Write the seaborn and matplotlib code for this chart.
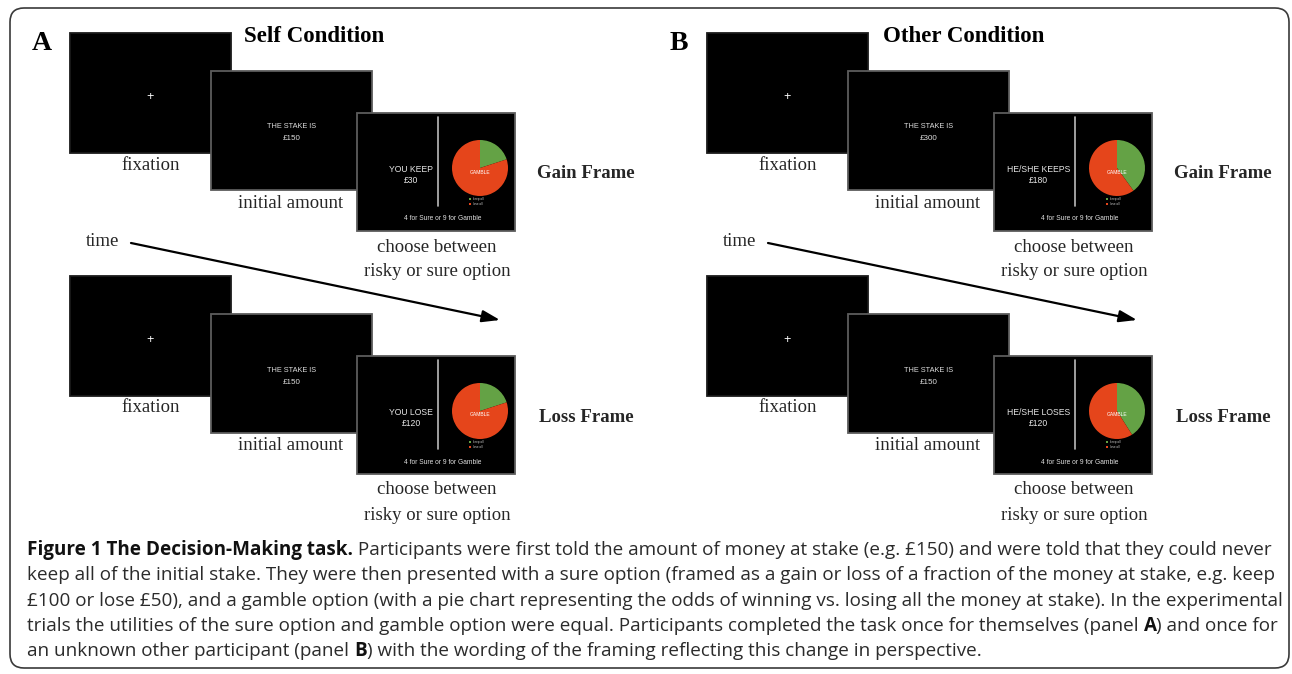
import matplotlib
matplotlib.use('Agg')
import matplotlib.pyplot as plt
from matplotlib import font_manager
from matplotlib.patches import Rectangle, Wedge, FancyBboxPatch
import seaborn as sns

# ---- content of the figure ----
panel_letters = ['A', 'B']
panel_titles = ['Self Condition', 'Other Condition']
frame_names = ['Gain Frame', 'Loss Frame']
stakes = [['£150', '£150'], ['£300', '£150']]            # [panel][frame]
sure_texts = [[('YOU KEEP', '£30'), ('YOU LOSE', '£120')],
              [('HE/SHE KEEPS', '£180'), ('HE/SHE LOSES', '£120')]]
keep_share = [[0.20, 0.20], [0.40, 0.41]]               # green slice of the gamble pie
step_labels = [['fixation'], ['initial amount'], ['choose between', 'risky or sure option']]
pie_labels = ['keep all', 'lose all']
key_prompt = '4 for Sure or 9 for Gamble'
time_label = 'time'

caption_lines = [
    [('Figure 1 The Decision-Making task.', True),
     (' Participants were first told the amount of money at stake (e.g. £150) and were told that they could never', False)],
    [('keep all of the initial stake. They were then presented with a sure option (framed as a gain or loss of a fraction of the money at stake, e.g. keep', False)],
    [('£100 or lose £50), and a gamble option (with a pie chart representing the odds of winning vs. losing all the money at stake). In the experimental', False)],
    [('trials the utilities of the sure option and gamble option were equal. Participants completed the task once for themselves (panel ', False),
     ('A', True), (') and once for', False)],
    [('an unknown other participant (panel ', False), ('B', True),
     (') with the wording of the framing reflecting this change in perspective.', False)],
]

# ---- layout (pixels) ----
W, H = 1292, 674
panel_dx = [0, 637]
row_dy = [0, 243]
screens = [(70, 33, 161, 120), (211, 71, 161, 119), (357, 113, 158, 118)]
GREEN, RED = '#64a245', '#e5451b'
SERIF = 'Liberation Serif'
SANS = 'Liberation Sans'

installed = {f.name for f in font_manager.fontManager.ttflist}
CAP_FONT = 'Liberation Sans Narrow' if 'Liberation Sans Narrow' in installed else 'Open Sans'

sns.set_theme(style='white')
plt.rcParams['font.family'] = ['DejaVu Sans']

fig = plt.figure(figsize=(W / 100, H / 100), dpi=100)
ax = fig.add_axes([0, 0, 1, 1])
ax.set_xlim(0, W)
ax.set_ylim(H, 0)
ax.axis('off')

# outer rounded frame
ax.add_patch(FancyBboxPatch((10, 8), 1279, 660, boxstyle='round,pad=0,rounding_size=14',
                            facecolor='none', edgecolor='#3a3a3a', linewidth=1.2))


def draw_pie(cx, cy, r, share):
    start = -90
    for frac, col in zip([share, 1 - share], [GREEN, RED]):
        ax.add_patch(Wedge((cx, cy), r, start, start + 360 * frac, facecolor=col,
                           edgecolor='none', zorder=5))
        start += 360 * frac


for p in range(2):
    dx = panel_dx[p]
    ax.text(42 + dx, 43, panel_letters[p], family=SERIF, fontweight='bold', fontsize=20,
            ha='center', va='center', color='black')
    ax.text(314 + dx + (13 if p else 0), 37, panel_titles[p], family=SERIF, fontweight='bold',
            fontsize=16.5, ha='center', va='center', color='black')

    # time arrow
    ax.text(103 + dx, 242, time_label, family=SERIF, fontsize=13.5, ha='center', va='center')
    ax.annotate('', xy=(500 + dx, 320), xytext=(131 + dx, 243),
                arrowprops=dict(arrowstyle='-|>,head_length=0.9,head_width=0.3',
                                color='black', lw=1.6, shrinkA=0, shrinkB=0))

    for f in range(2):
        dy = row_dy[f]
        # three screens
        for i, (sx, sy, sw, sh) in enumerate(screens):
            ax.add_patch(Rectangle((sx + dx, sy + dy), sw, sh, facecolor='black',
                                   edgecolor='#1a1a1a' if i == 0 else '#5c5c5c', linewidth=1.3,
                                   zorder=2 + i))
        # fixation cross
        x0, y0, _, _ = screens[0]
        ax.text(x0 + dx + 80, y0 + dy + 64, '+', color='white', fontsize=9, family=SANS,
                ha='center', va='center', zorder=3)
        # stake screen
        x1, y1, w1, _ = screens[1]
        ax.text(x1 + dx + w1 / 2, y1 + dy + 56, 'THE STAKE IS', color='#dddddd', fontsize=5.3,
                family=SANS, ha='center', va='center', zorder=4)
        ax.text(x1 + dx + w1 / 2, y1 + dy + 68, stakes[p][f], color='#dddddd', fontsize=5.8,
                family=SANS, ha='center', va='center', zorder=4)
        # choice screen
        x2, y2, w2, h2 = screens[2]
        bx, by = x2 + dx, y2 + dy
        ax.plot([bx + 81, bx + 81], [by + 4, by + 93], color='#bbbbbb', lw=1.2, zorder=5)
        ax.text(bx + 76, by + 62, '\n'.join(sure_texts[p][f]), color='#e6e6e6', fontsize=6.2,
                family=SANS, ha='right', va='center', multialignment='center',
                linespacing=1.15, zorder=5)
        draw_pie(bx + 123, by + 55, 28, keep_share[p][f])
        ax.text(bx + 123, by + 59, 'GAMBLE', color='white', fontsize=3.6, family=SANS,
                ha='center', va='center', zorder=6)
        for k, (lab, col) in enumerate(zip(pie_labels, [GREEN, RED])):
            ax.scatter([bx + 113], [by + 86 + 5 * k], s=3, marker='s', color=col, zorder=6,
                       linewidths=0)
            ax.text(bx + 116, by + 86 + 5 * k, lab, color='#cccccc', fontsize=2.2, family=SANS,
                    ha='left', va='center', zorder=6)
        ax.text(bx + 86, by + 106, key_prompt, color='#e0e0e0', fontsize=4.8, family=SANS,
                ha='center', va='center', zorder=6)

        # captions under the screens
        ax.text(151 + dx, 165 + dy, step_labels[0][0], family=SERIF, fontsize=13.5,
                ha='center', va='center')
        ax.text(291 + dx, 203 + dy, step_labels[1][0], family=SERIF, fontsize=13.5,
                ha='center', va='center')
        for j, line in enumerate(step_labels[2]):
            ax.text(437 + dx, 247 + dy + 25 * j, line, family=SERIF, fontsize=13.5,
                    ha='center', va='center')
        ax.text(586 + dx, 174 + dy, frame_names[f], family=SERIF, fontweight='bold',
                fontsize=13.5, ha='center', va='center')

# figure caption with mixed bold / regular runs
fig.canvas.draw()
renderer = fig.canvas.get_renderer()
inv = ax.transData.inverted()


def place_line(segs, x, y, size, visible=True):
    made = []
    for txt, bold in segs:
        t = ax.text(x, y, txt, family=CAP_FONT, fontsize=size,
                    fontweight='bold' if bold else 'normal',
                    color='#111111' if bold else '#2b2b2b', ha='left', va='baseline')
        bb = t.get_window_extent(renderer)
        x = inv.transform((bb.x1, bb.y0))[0]
        made.append(t)
    if not visible:
        for t in made:
            t.remove()
    return x


# fit the size so the first line runs to the same right edge as in the print
probe = place_line(caption_lines[0], 27, 555, 10, visible=False)
cap_size = 10 * (1275 - 27) / (probe - 27)
for i, segs in enumerate(caption_lines):
    place_line(segs, 27, 555 + 25.3 * i, cap_size)

fig.savefig('out.png', dpi=100)
